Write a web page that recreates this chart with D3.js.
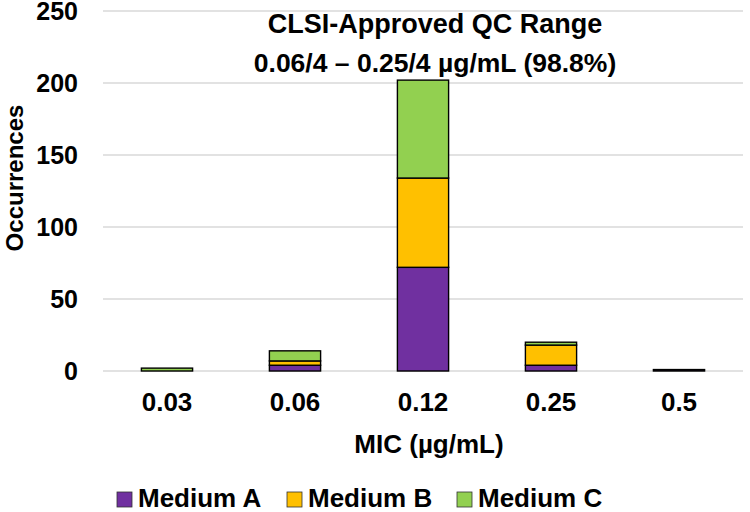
<!DOCTYPE html>
<html>
<head>
<meta charset="utf-8">
<script src="https://cdn.jsdelivr.net/npm/d3@7"></script>
<style>
  body { margin: 0; background: #fff; }
  text { font-family: "Liberation Sans", Arial, sans-serif; font-weight: bold; fill: #000; }
</style>
</head>
<body>
<svg id="chart" width="750" height="512"></svg>
<script>
// MIC categories and counts per medium
const mics = ["0.03", "0.06", "0.12", "0.25", "0.5"];
const mediumA = [0, 4, 72, 4, 1];
const mediumB = [0, 3, 62, 14, 0];
const mediumC = [2, 7, 68, 2, 0];
const seriesNames = ["Medium A", "Medium B", "Medium C"];
const yTicks = [0, 50, 100, 150, 200, 250];

const colors = { "Medium A": "#7030A0", "Medium B": "#FFC000", "Medium C": "#92D050" };

const rows = mics.map((m, i) => ({
  mic: m, "Medium A": mediumA[i], "Medium B": mediumB[i], "Medium C": mediumC[i]
}));

const svg = d3.select("#chart");
const margin = { left: 103, right: 7, top: 11, bottom: 141 };
const w = 750 - margin.left - margin.right;
const h = 512 - margin.top - margin.bottom;

const g = svg.append("g").attr("transform", `translate(${margin.left},${margin.top})`);

const x = d3.scaleBand().domain(mics).range([0, w]).paddingInner(0.6).paddingOuter(0.3);
const y = d3.scaleLinear().domain([0, 250]).range([h, 0]);

// gridlines
g.selectAll(".grid").data(yTicks).enter().append("line")
  .attr("x1", 0).attr("x2", w)
  .attr("y1", d => y(d)).attr("y2", d => y(d))
  .attr("stroke", "#d9d9d9").attr("stroke-width", 1.3);

const stack = d3.stack().keys(seriesNames)(rows);

g.selectAll(".layer").data(stack).enter().append("g")
  .attr("fill", d => colors[d.key])
  .selectAll("rect").data(d => d.filter(p => p[1] - p[0] > 0)).enter().append("rect")
  .attr("x", d => x(d.data.mic))
  .attr("width", x.bandwidth())
  .attr("y", d => y(d[1]))
  .attr("height", d => y(d[0]) - y(d[1]))
  .attr("stroke", "#000").attr("stroke-width", 1.4);

// axes
const yAxis = g.append("g").call(d3.axisLeft(y).tickValues(yTicks).tickSize(0).tickPadding(25));
yAxis.select(".domain").remove();
yAxis.selectAll("text").attr("font-size", 25).attr("dy", "0.35em")
  .style("font-family", "Liberation Sans, Arial, sans-serif").style("font-weight", "bold");

const xAxis = g.append("g").attr("transform", `translate(0,${h})`)
  .call(d3.axisBottom(x).tickSize(0).tickPadding(22));
xAxis.select(".domain").remove();
xAxis.selectAll("text").attr("font-size", 26)
  .style("font-family", "Liberation Sans, Arial, sans-serif").style("font-weight", "bold");

// axis titles
svg.append("text").attr("x", 429).attr("y", 453)
  .attr("text-anchor", "middle").attr("font-size", 26).text("MIC (µg/mL)");
svg.append("text").attr("transform", "translate(23,178) rotate(-90)")
  .attr("text-anchor", "middle").attr("font-size", 24).text("Occurrences");

// annotation
svg.append("text").attr("x", 435).attr("y", 33).attr("text-anchor", "middle")
  .attr("font-size", 27).text("CLSI-Approved QC Range");
svg.append("text").attr("x", 435).attr("y", 72).attr("text-anchor", "middle")
  .attr("font-size", 26.5).text("0.06/4 – 0.25/4 µg/mL (98.8%)");

// legend
const legX = [117, 287, 457];
const leg = svg.selectAll(".leg").data(seriesNames).enter().append("g")
  .attr("transform", (d, i) => `translate(${legX[i]},492)`);
leg.append("rect").attr("width", 15).attr("height", 15)
  .attr("fill", d => colors[d]).attr("stroke", "#333").attr("stroke-width", 0.8);
leg.append("text").attr("x", 21).attr("y", 15).attr("font-size", 26).text(d => d);
</script>
</body>
</html>
